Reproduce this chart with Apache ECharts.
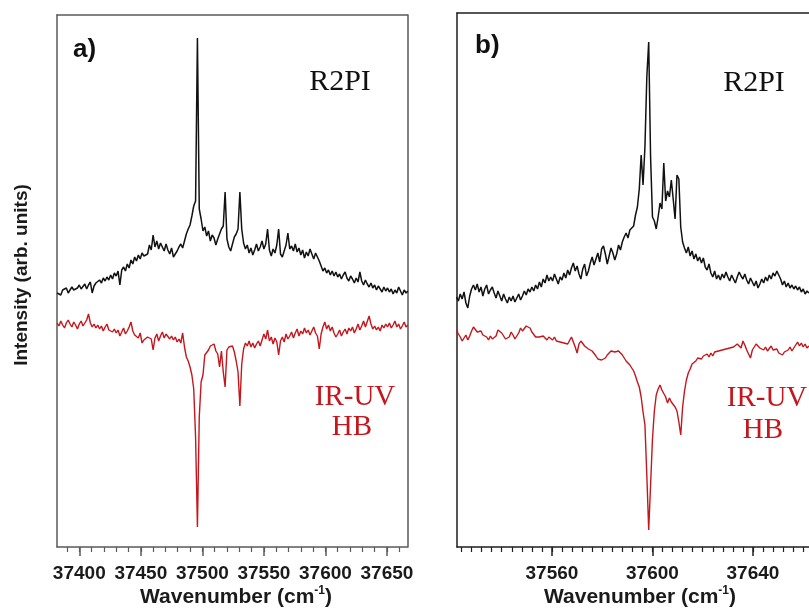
<!DOCTYPE html>
<html><head><meta charset="utf-8">
<script src="https://cdn.jsdelivr.net/npm/echarts@6/dist/echarts.min.js"></script>
<style>html,body{margin:0;padding:0;background:#fff}#c{width:809px;height:610px}</style>
</head><body><div id="c"></div>
<script>
// ---- Panel a) : sampling grid (cm-1) and intensities (arb. units)
const aStart = 37382, aStep = 1.5;
const aR2PI = [
254,256,252,257,255,259,254,256,260,257,
255,259,262,258,260,263,258,262,265,254,
261,264,262,267,264,269,266,270,267,272,
268,274,271,276,262,277,280,276,283,279,
287,283,290,286,292,288,294,291,289,293,
302,297,312,300,306,298,304,300,296,303,
297,293,299,290,288,296,300,303,299,306,
313,318,322,331,341,346,509,338,328,316,
320,311,316,306,312,309,302,308,313,318,
321,355,308,300,296,303,310,313,318,355,
318,304,298,302,294,299,292,297,303,296,
300,306,298,303,318,297,291,298,294,302,
318,293,290,296,302,314,298,301,296,303,
295,299,292,297,289,295,291,298,293,288,
294,290,286,281,276,279,274,277,272,276,
271,275,270,273,268,272,275,269,266,271,
268,264,269,265,275,266,262,267,263,260,
264,259,262,257,261,258,255,260,256,259,
255,258,253,257,254,260,262,252,257,254,256];
const aHB = [
224,221,226,222,219,224,227,223,220,225,
222,218,223,226,221,224,227,233,224,220,
223,219,222,218,221,216,220,223,217,219,
215,218,214,217,211,215,219,213,216,220,
225,216,212,214,209,214,204,207,205,210,
212,208,197,209,213,206,211,215,209,213,
214,208,211,207,210,205,208,204,214,200,
190,186,180,172,158,110,20,130,165,172,
192,190,197,201,199,203,196,193,180,196,
175,160,197,200,198,201,195,186,175,141,
183,198,204,201,206,200,204,199,203,206,
201,207,213,208,217,206,210,203,209,205,
192,206,210,205,213,208,211,215,209,214,
218,211,216,213,219,214,217,212,216,220,
214,211,198,213,220,225,218,222,216,220,
214,210,213,217,211,215,218,213,219,216,
220,214,218,223,217,221,226,220,222,231,
223,218,221,217,220,216,222,219,223,220,
224,219,222,226,220,223,218,221,225,220,222];

// ---- Panel b)
const bStart = 37522, bStep = 0.75;
const bR2PI = [
250,246,253,248,255,244,239,251,258,262,
257,263,255,260,251,258,262,253,257,260,
254,249,256,251,246,253,248,244,250,246,
251,245,249,253,247,251,256,252,258,255,
260,256,262,258,265,260,268,264,272,266,
270,266,273,268,263,270,267,274,269,277,
272,279,284,276,281,273,268,278,283,271,
276,284,290,282,288,294,285,298,301,293,
283,291,299,294,287,293,302,297,305,310,
314,309,317,318,321,332,340,358,392,362,
400,470,505,390,330,326,318,330,344,338,
384,346,356,350,367,348,328,372,368,320,
305,299,294,300,291,296,288,293,286,290,
284,289,280,277,283,274,270,276,268,272,
267,273,269,275,270,266,272,268,264,270,
275,271,268,273,267,263,269,265,261,266,
259,263,268,264,270,266,272,268,274,271,
276,272,268,262,266,260,264,259,262,258,
261,257,260,255,258,253,256,254];
const bHB = [
217,213,210,206,209,212,207,211,216,220,
218,215,213,216,212,214,210,207,211,208,
206,211,217,219,214,212,208,206,210,215,
212,208,210,214,219,216,218,221,222,219,
215,213,210,212,210,208,211,209,207,210,
209,207,210,206,208,205,207,204,206,203,
205,210,212,200,194,203,206,204,201,199,
198,200,196,194,191,188,190,187,185,189,
192,194,196,197,195,193,196,194,192,189,
186,184,182,180,176,171,165,160,150,135,
122,72,17,62,108,136,152,158,162,157,
155,150,144,149,145,147,140,136,125,112,
140,156,167,174,178,183,181,186,189,187,
188,191,189,193,190,194,191,195,193,196,
194,197,195,198,196,199,197,200,198,203,
201,199,206,202,197,195,189,197,200,203,
202,199,201,197,200,196,198,201,197,195,
198,194,196,192,195,193,197,200,196,199,
202,205,201,204,200,203,199,201];

// ---- Tick values
const aMajorTicks = [37400,37450,37500,37550,37600,37650];
const aMinorTicks = [37390,37400,37410,37420,37430,37440,37450,37460,37470,37480,37490,37500,37510,37520,37530,37540,37550,37560,37570,37580,37590,37600,37610,37620,37630,37640,37650,37660];
const bMajorTicks = [37560,37600,37640];
const bMinorTicks = [37524,37528,37532,37536,37540,37544,37548,37552,37556,37560,37564,37568,37572,37576,37580,37584,37588,37592,37596,37600,37604,37608,37612,37616,37620,37624,37628,37632,37636,37640,37644,37648,37652,37656,37660];

const toPairs = (arr, s, d) => arr.map((v, i) => [s + i * d, v]);

const SANS = '"Liberation Sans", Arial, Helvetica, sans-serif';
const SERIF = '"Liberation Serif", "Times New Roman", serif';
const RED = '#c4161c';
const aCol = '#5a5a5a', bCol = '#1e1e1e';

function bottomAxes(grid, min, max, major, minor, col) {
  return [
    { gridIndex: grid, type: 'value', position: 'bottom', min, max,
      axisLine: { show: true, onZero: false, lineStyle: { color: col, width: 1.5 } },
      axisTick: { show: true, inside: false, length: 9, customValues: major, lineStyle: { color: col, width: 1.5 } },
      axisLabel: { show: true, customValues: major, margin: 17, formatter: v => String(v),
        fontFamily: SANS, fontWeight: 'bold', fontSize: 19, color: '#1a1a1a' },
      splitLine: { show: false } },
    { gridIndex: grid, type: 'value', position: 'bottom', min, max,
      axisLine: { show: false, onZero: false },
      axisTick: { show: true, inside: false, length: 5, customValues: minor, lineStyle: { color: col, width: 1.2 } },
      axisLabel: { show: false }, splitLine: { show: false } },
    { gridIndex: grid, type: 'value', position: 'top', min, max,
      axisLine: { show: true, onZero: false, lineStyle: { color: col, width: 1.5 } },
      axisTick: { show: false }, axisLabel: { show: false }, splitLine: { show: false } }
  ];
}
function yAx(grid, max, pos, col) {
  return { gridIndex: grid, type: 'value', min: 0, max, position: pos,
    axisLine: { show: true, onZero: false, lineStyle: { color: col, width: 1.5 } },
    axisTick: { show: false }, axisLabel: { show: false }, splitLine: { show: false } };
}

const titleRich = {
  a: { fontFamily: SANS, fontWeight: 'bold', fontSize: 21, fill: '#1a1a1a', lineHeight: 25 },
  s: { fontFamily: SANS, fontWeight: 'bold', fontSize: 12, fill: '#1a1a1a', verticalAlign: 'top' }
};

const chart = echarts.init(document.getElementById('c'), null, { renderer: 'canvas' });
chart.setOption({
  animation: false,
  backgroundColor: '#fff',
  grid: [
    { left: 57, top: 15, width: 350.5, height: 532 },
    { left: 457, top: 13, width: 352, height: 534 }
  ],
  xAxis: [
    ...bottomAxes(0, 37381.9, 37666.7, aMajorTicks, aMinorTicks, aCol),
    ...bottomAxes(1, 37522.2, 37662.3, bMajorTicks, bMinorTicks, bCol)
  ],
  yAxis: [
    yAx(0, 532, 'left', aCol),
    yAx(0, 532, 'right', aCol),
    yAx(1, 534, 'left', bCol)
  ],
  series: [
    { type: 'line', xAxisIndex: 0, yAxisIndex: 0, data: toPairs(aR2PI, aStart, aStep), showSymbol: false,
      lineStyle: { color: '#111', width: 1.5 }, silent: true },
    { type: 'line', xAxisIndex: 0, yAxisIndex: 0, data: toPairs(aHB, aStart, aStep), showSymbol: false,
      lineStyle: { color: RED, width: 1.4 }, silent: true },
    { type: 'line', xAxisIndex: 3, yAxisIndex: 2, data: toPairs(bR2PI, bStart, bStep), showSymbol: false,
      lineStyle: { color: '#111', width: 1.5 }, silent: true },
    { type: 'line', xAxisIndex: 3, yAxisIndex: 2, data: toPairs(bHB, bStart, bStep), showSymbol: false,
      lineStyle: { color: RED, width: 1.4 }, silent: true }
  ],
  graphic: [
    { type: 'text', x: 73, y: 50, style: { text: 'a)', font: 'bold 26px ' + SANS, fill: '#111', align: 'left', verticalAlign: 'middle' } },
    { type: 'text', x: 475, y: 46, style: { text: 'b)', font: 'bold 26px ' + SANS, fill: '#111', align: 'left', verticalAlign: 'middle' } },
    { type: 'text', x: 340, y: 82, style: { text: 'R2PI', font: '30px ' + SERIF, fill: '#111', align: 'center', verticalAlign: 'middle' } },
    { type: 'text', x: 754, y: 83, style: { text: 'R2PI', font: '30px ' + SERIF, fill: '#111', align: 'center', verticalAlign: 'middle' } },
    { type: 'text', x: 355, y: 397, style: { text: 'IR-UV', font: '29px ' + SERIF, fill: RED, align: 'center', verticalAlign: 'middle' } },
    { type: 'text', x: 352, y: 427, style: { text: 'HB', font: '29px ' + SERIF, fill: RED, align: 'center', verticalAlign: 'middle' } },
    { type: 'text', x: 767, y: 398, style: { text: 'IR-UV', font: '29px ' + SERIF, fill: RED, align: 'center', verticalAlign: 'middle' } },
    { type: 'text', x: 763, y: 430, style: { text: 'HB', font: '29px ' + SERIF, fill: RED, align: 'center', verticalAlign: 'middle' } },
    { type: 'text', x: 22, y: 275, rotation: Math.PI / 2,
      style: { text: 'Intensity (arb. units)', font: 'bold 19px ' + SANS, fill: '#1a1a1a', align: 'center', verticalAlign: 'middle' } },
    { type: 'text', x: 236, y: 597, style: { text: '{a|Wavenumber (cm}{s|-1}{a|)}', rich: titleRich, align: 'center', verticalAlign: 'middle' } },
    { type: 'text', x: 640, y: 597, style: { text: '{a|Wavenumber (cm}{s|-1}{a|)}', rich: titleRich, align: 'center', verticalAlign: 'middle' } }
  ]
});
</script>
</body></html>
